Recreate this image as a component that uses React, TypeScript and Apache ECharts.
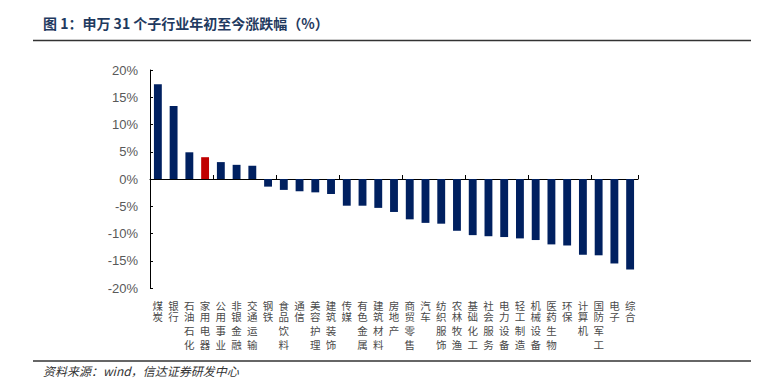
import React, { useEffect, useRef } from "react";
import * as echarts from "echarts";

const categories = [
  "煤炭", "银行", "石油石化", "家用电器", "公用事业", "非银金融", "交通运输",
  "钢铁", "食品饮料", "通信", "美容护理", "建筑装饰", "传媒", "有色金属",
  "建筑材料", "房地产", "商贸零售", "汽车", "纺织服饰", "农林牧渔", "基础化工",
  "社会服务", "电力设备", "轻工制造", "机械设备", "医药生物", "环保", "计算机",
  "国防军工", "电子", "综合",
];
const values = [
  17.4, 13.4, 4.9, 4.0, 3.1, 2.6, 2.45,
  -1.4, -2.0, -2.25, -2.45, -2.75, -4.9, -4.9,
  -5.3, -6.05, -7.4, -8.05, -8.2, -9.5, -10.3,
  -10.5, -10.65, -10.9, -11.2, -12.0, -12.2, -13.9,
  -14.0, -15.5, -16.6,
];
const highlight = "家用电器";
const yTicks = { min: -20, max: 20, interval: 5 };
const titleText = "图 1：申万 31 个子行业年初至今涨跌幅（%）";
const sourceText = "资料来源：wind，信达证券研发中心";

export default function App() {
  const ref = useRef<HTMLDivElement>(null);
  useEffect(() => {
    document.body.style.margin = "0";
    if (!ref.current) return;
    const chart = echarts.init(ref.current, null, { renderer: "svg" });
    const labelFont = {
      fontSize: 10.5,
      color: "#4a4a4a",
      fontFamily: "Noto Sans CJK SC",
    };
    chart.setOption({
      animation: false,
      backgroundColor: "#ffffff",
      grid: { left: 150, right: 124, top: 70, bottom: 98, containLabel: false },
      xAxis: [
        {
          type: "category",
          data: categories,
          position: "bottom",
          axisLine: { onZero: true, lineStyle: { color: "#000000", width: 1 } },
          axisTick: { show: true, inside: true, length: 4, lineStyle: { color: "#000000" } },
          axisLabel: { show: false },
          splitLine: { show: false },
        },
        {
          type: "category",
          data: categories,
          position: "bottom",
          axisLine: { show: false, onZero: false },
          axisTick: { show: false },
          axisLabel: {
            show: true,
            interval: 0,
            margin: 11.5,
            ...labelFont,
            formatter: (v: string) =>
              v
                .split("")
                .map((c, i) => `{${i === 2 ? "b" : i === 3 ? "c" : "a"}|${c}}`)
                .join("\n"),
            rich: {
              a: { ...labelFont, lineHeight: 11.5 },
              b: { ...labelFont, lineHeight: 16 },
              c: { ...labelFont, lineHeight: 12 },
            },
          },
          splitLine: { show: false },
        },
      ],
      yAxis: {
        type: "value",
        min: yTicks.min,
        max: yTicks.max,
        interval: yTicks.interval,
        axisLine: { show: true, lineStyle: { color: "#000000", width: 1 } },
        axisTick: { show: true, inside: true, length: 3, lineStyle: { color: "#000000" } },
        splitLine: { show: false },
        axisLabel: {
          color: "#595959",
          fontSize: 13,
          margin: 12,
          fontFamily: "Liberation Sans, Arial, sans-serif",
          formatter: "{value}%",
        },
      },
      series: [
        {
          type: "bar",
          xAxisIndex: 0,
          barWidth: "50%",
          data: values.map((v, i) => ({
            value: v,
            itemStyle: { color: categories[i] === highlight ? "#C00000" : "#002060" },
          })),
        },
      ],
      graphic: [
        {
          type: "text",
          left: 43,
          top: 16,
          style: {
            text: titleText,
            fill: "#1F3A60",
            font: "bold 14px 'Noto Sans CJK SC'",
          },
        },
        {
          type: "line",
          shape: { x1: 33, y1: 40.5, x2: 751, y2: 40.5 },
          style: { stroke: "#333333", lineWidth: 1.5 },
        },
        {
          type: "line",
          shape: { x1: 33, y1: 361, x2: 751, y2: 361 },
          style: { stroke: "#333333", lineWidth: 1.5 },
        },
        {
          type: "text",
          left: 43,
          top: 364,
          style: {
            text: sourceText,
            fill: "#333333",
            font: "italic 12px 'Noto Sans CJK SC'",
          },
        },
      ],
    });
    return () => chart.dispose();
  }, []);
  return <div ref={ref} style={{ width: 762, height: 386 }} />;
}
